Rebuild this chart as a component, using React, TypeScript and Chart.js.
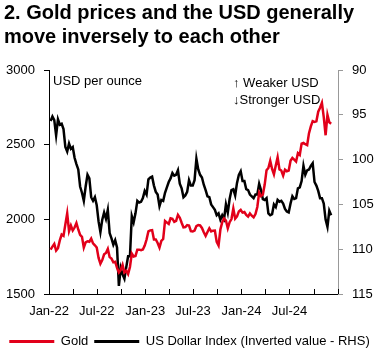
import React, { useEffect, useRef } from "react";
import { Chart, registerables } from "chart.js";

Chart.register(...registerables);

// Weekly observations, first week ending 2022-01-07
const firstWeek = "2022-01-07";

const gold2022 = [1797,1817,1835,1791,1807,1859,1898,1889,1966,2040,1921,1958,1925,1945,1975,1932,1896,1883,1811,1846,1853,1850,1871,1839,1826,1811,1742,1703,1727,1766,1775,1802,1747,1737,1712,1716,1675,1644,1661,1695,1644,1657,1634,1681,1771,1751,1755,1797,1797,1793,1798,1824];
const gold2023 = [1865,1920,1926,1928,1865,1865,1842,1811,1855,1868,1989,1978,1969,2007,2004,1983,1990,2030,2011,1977,1946,1948,1961,1958,1921,1919,1925,1955,1962,1959,1942,1913,1889,1915,1940,1919,1924,1925,1849,1825,1932,1981,2006,1992,1940,1981,2002,2072,2005,2020,2053,2063];
const gold2024 = [2045,2049,2029,2018,2039,2024,2013,2035,2083,2179,2155,2165,2233,2329,2344,2392,2337,2301,2360,2415,2334,2327,2293,2333,2322,2326,2392,2411,2400,2387,2443,2431,2507,2512,2503,2497,2577,2622,2658,2653,2657,2721,2747,2780,2685,2563,2700,2650,2640];

const dxy2022 = [95.7,95.2,95.6,97.3,95.5,96.1,96.0,96.6,98.6,99.1,98.2,98.8,98.6,99.8,100.5,101.1,103.0,103.7,104.6,103.0,101.7,102.1,104.2,104.6,104.2,105.1,106.9,108.1,106.7,105.9,106.6,105.6,108.2,108.8,109.5,109.0,109.8,114.1,112.1,112.8,113.3,112.0,110.8,110.8,106.3,107.0,106.0,104.6,104.8,104.7,104.3,103.5];
const dxy2023 = [103.9,102.2,102.0,101.9,102.9,103.6,103.9,105.2,104.5,104.6,103.7,103.1,102.5,102.1,101.5,101.8,101.7,101.2,102.7,103.2,104.2,104.0,103.6,102.3,102.9,102.9,102.3,99.9,101.1,101.7,102.0,102.8,103.4,104.1,104.2,105.0,105.3,105.6,106.2,106.0,106.7,106.2,106.6,105.0,105.9,104.4,103.4,103.3,104.0,102.6,101.7,101.3];
const dxy2024 = [102.4,102.4,103.3,103.4,103.9,104.1,104.3,103.9,103.9,102.7,103.4,104.4,104.5,104.3,106.0,106.2,106.1,105.0,105.3,104.5,104.7,104.6,104.9,105.5,105.8,105.9,104.9,104.1,104.4,104.3,103.2,103.1,102.4,100.7,101.7,101.2,101.1,100.7,100.4,102.5,102.9,103.5,104.3,104.3,104.9,106.7,107.5,105.7,106.2];

const goldValues = [...gold2022, ...gold2023, ...gold2024];
const dxyValues = [...dxy2022, ...dxy2023, ...dxy2024];

const tickDates = ["2022-01-01","2022-04-01","2022-07-01","2022-10-01","2023-01-01","2023-04-01","2023-07-01","2023-10-01","2024-01-01","2024-04-01","2024-07-01","2024-10-01","2025-01-01"];
const tickLabels = ["Jan-22","","Jul-22","","Jan-23","","Jul-23","","Jan-24","","Jul-24","",""];

const leftTicks = [1500, 2000, 2500, 3000];
const rightTicks = [90, 95, 100, 105, 110, 115];

const seriesNames = ["Gold", "US Dollar Index (Inverted value - RHS)"];
const notes = ["USD per ounce", "\u2191 Weaker USD", "\u2193Stronger USD"];

const RED = "#e2001a";
const FONT = '"Liberation Sans", Arial, sans-serif';

const DAY = 86400000;
const origin = Date.parse("2022-01-01T00:00:00Z");
const toDay = (s: string) => (Date.parse(s + "T00:00:00Z") - origin) / DAY;
const firstDay = toDay(firstWeek);
const weekX = (i: number) => firstDay + 7 * i;

const decorations = {
  id: "decorations",
  afterDraw(chart: any) {
    const { ctx, chartArea, scales } = chart;
    const x = scales.x;
    ctx.save();
    ctx.strokeStyle = "#000";
    ctx.lineWidth = 1;
    x.ticks.forEach((t: any) => {
      const px = Math.round(x.getPixelForValue(t.value)) + 0.5;
      ctx.beginPath();
      ctx.moveTo(px, chartArea.bottom);
      ctx.lineTo(px, chartArea.bottom - 5);
      ctx.stroke();
    });
    ctx.fillStyle = "#000";
    ctx.font = "13px " + FONT;
    ctx.textAlign = "left";
    ctx.textBaseline = "middle";
    ctx.fillText(notes[0], chartArea.left + 4, chartArea.top + 11);
    ctx.fillText(notes[1], chartArea.left + 184, chartArea.top + 13);
    ctx.fillText(notes[2], chartArea.left + 184, chartArea.top + 30);
    ctx.restore();
  },
};

export default function App() {
  const ref = useRef<HTMLCanvasElement | null>(null);

  useEffect(() => {
    if (!ref.current) return;
    const chart = new Chart(ref.current, {
      type: "line",
      data: {
        datasets: [
          {
            label: seriesNames[0],
            data: goldValues.map((v, i) => ({ x: weekX(i), y: v })),
            borderColor: RED,
            backgroundColor: RED,
            borderWidth: 2.5,
            pointRadius: 0,
            tension: 0,
            yAxisID: "y",
          },
          {
            label: seriesNames[1],
            data: dxyValues.map((v, i) => ({ x: weekX(i), y: v })),
            borderColor: "#000",
            backgroundColor: "#000",
            borderWidth: 2.5,
            pointRadius: 0,
            tension: 0,
            yAxisID: "y2",
          },
        ],
      },
      options: {
        responsive: false,
        animation: false,
        events: [],
        layout: { padding: { top: 70, left: 0, right: 0, bottom: 0 } },
        scales: {
          x: {
            type: "linear",
            min: toDay(tickDates[0]),
            max: toDay(tickDates[tickDates.length - 1]),
            afterBuildTicks: (scale: any) => {
              scale.ticks = tickDates.map((d) => ({ value: toDay(d) }));
            },
            afterFit: (scale: any) => {
              scale.height = 35;
            },
            grid: { display: false, drawTicks: false },
            border: { display: true, color: "#000", width: 1 },
            ticks: {
              autoSkip: false,
              maxRotation: 0,
              padding: 10,
              color: "#000",
              font: { family: FONT, size: 13 },
              callback: (value: any) => {
                const idx = tickDates.findIndex((d) => Math.abs(toDay(d) - Number(value)) < 0.5);
                return idx >= 0 ? tickLabels[idx] : "";
              },
            },
          },
          y: {
            position: "left",
            min: leftTicks[0],
            max: leftTicks[leftTicks.length - 1],
            afterBuildTicks: (scale: any) => {
              scale.ticks = leftTicks.map((v) => ({ value: v }));
            },
            afterFit: (scale: any) => {
              scale.width = 49;
            },
            grid: { drawOnChartArea: false, drawTicks: true, tickLength: 5, color: "#000" },
            border: { display: true, color: "#000", width: 1 },
            ticks: {
              padding: 9,
              color: "#000",
              font: { family: FONT, size: 13 },
              callback: (value: any) => String(value),
            },
          },
          y2: {
            position: "right",
            reverse: true,
            min: rightTicks[0],
            max: rightTicks[rightTicks.length - 1],
            afterBuildTicks: (scale: any) => {
              scale.ticks = rightTicks.map((v) => ({ value: v }));
            },
            afterFit: (scale: any) => {
              scale.width = 41;
            },
            grid: { drawOnChartArea: false, drawTicks: true, tickLength: 5, color: "#999" },
            border: { display: true, color: "#999", width: 1 },
            ticks: {
              padding: 9,
              color: "#000",
              font: { family: FONT, size: 13 },
              callback: (value: any) => String(value),
            },
          },
        },
        plugins: {
          title: { display: false },
          tooltip: { enabled: false },
          legend: {
            display: true,
            position: "bottom",
            labels: {
              boxWidth: 45,
              boxHeight: 3,
              padding: 6,
              color: "#000",
              font: { family: FONT, size: 13 },
              generateLabels: (c: any) =>
                Chart.defaults.plugins.legend.labels.generateLabels(c).map((l: any) => ({ ...l, lineWidth: 0 })),
            },
          },
        },
      },
      plugins: [decorations],
    } as any);
    return () => chart.destroy();
  }, []);

  return (
    <div style={{ position: "absolute", left: 0, top: 0, width: 379, height: 358 }}>
      <canvas ref={ref} width={379} height={358} style={{ position: "absolute", left: 0, top: 0 }} />
      <div
        style={{
          position: "absolute",
          left: 4,
          top: 0,
          font: "bold 20px " + FONT,
          lineHeight: "24px",
          color: "#000",
          whiteSpace: "nowrap",
        }}
      >
        2. Gold prices and the USD generally
        <br />
        move inversely to each other
      </div>
    </div>
  );
}
